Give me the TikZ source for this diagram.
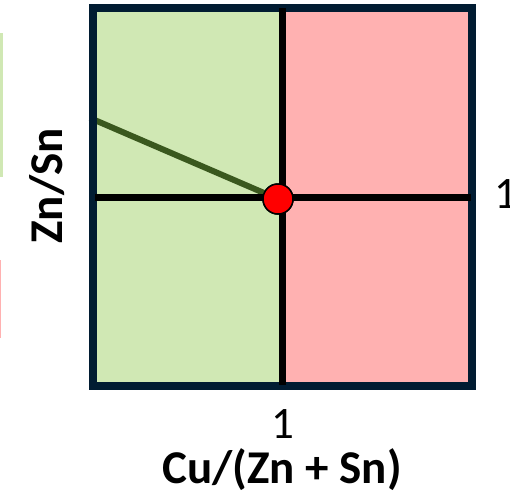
\documentclass[tikz,border=0pt]{standalone}
\usepackage{fontspec}
\setmainfont{Carlito}
\definecolor{lgreen}{RGB}{208,232,180}
\definecolor{lpink}{RGB}{255,177,177}
\definecolor{navy}{RGB}{1,28,50}
\definecolor{dgreen}{RGB}{58,88,30}
\tikzset{
  axislabel/.style={font=\fontsize{47}{52}\selectfont\bfseries, inner sep=0pt},
  ticklabel/.style={font=\fontsize{45}{50}\selectfont, inner sep=0pt},
  axisline/.style={line width=7pt, black},
}
\begin{document}
\begin{tikzpicture}[x=1pt,y=-1pt]
\useasboundingbox (0,0) rectangle (510,493);
% clipped fragments at left edge
\fill[lgreen] (0,33) rectangle (3,177);
\fill[lpink] (0,260) rectangle (1.2,338);
% regions
\fill[lgreen] (93,8) rectangle (282,386);
\fill[lpink] (282,8) rectangle (472,386);
% dot and trend line
\node[circle, fill=red, draw=black, line width=1.5pt, minimum size=30pt, inner sep=0pt] (dot) at (278,199) {};
\coordinate (lstart) at (90,118);
\draw[dgreen, line width=6pt] (lstart) -- (dot.center);
% frame
\draw[navy, line width=8pt] (93,8) rectangle (472,386);
% axes lines
\coordinate (vtop) at (282,8);
\coordinate (vbot) at (282,385);
\coordinate (hl) at (95,197);
\coordinate (hr) at (471,197);
\draw[axisline] (vtop) -- (vbot);
\draw[axisline] (hl) -- (hr);
% redraw dot on top
\node[circle, fill=red, draw=black, line width=1.5pt, minimum size=30pt, inner sep=0pt] at (dot.center) {};
% labels
\node[axislabel, rotate=90] (ylab) at (47,186) {Zn/Sn};
\node[ticklabel, anchor=west] (yone) at (494,194) {1};
\node[ticklabel] (xone) at (283,424) {1};
\node[axislabel] (xlab) at (282,470) {Cu/(Zn + Sn)};
\end{tikzpicture}
\end{document}
